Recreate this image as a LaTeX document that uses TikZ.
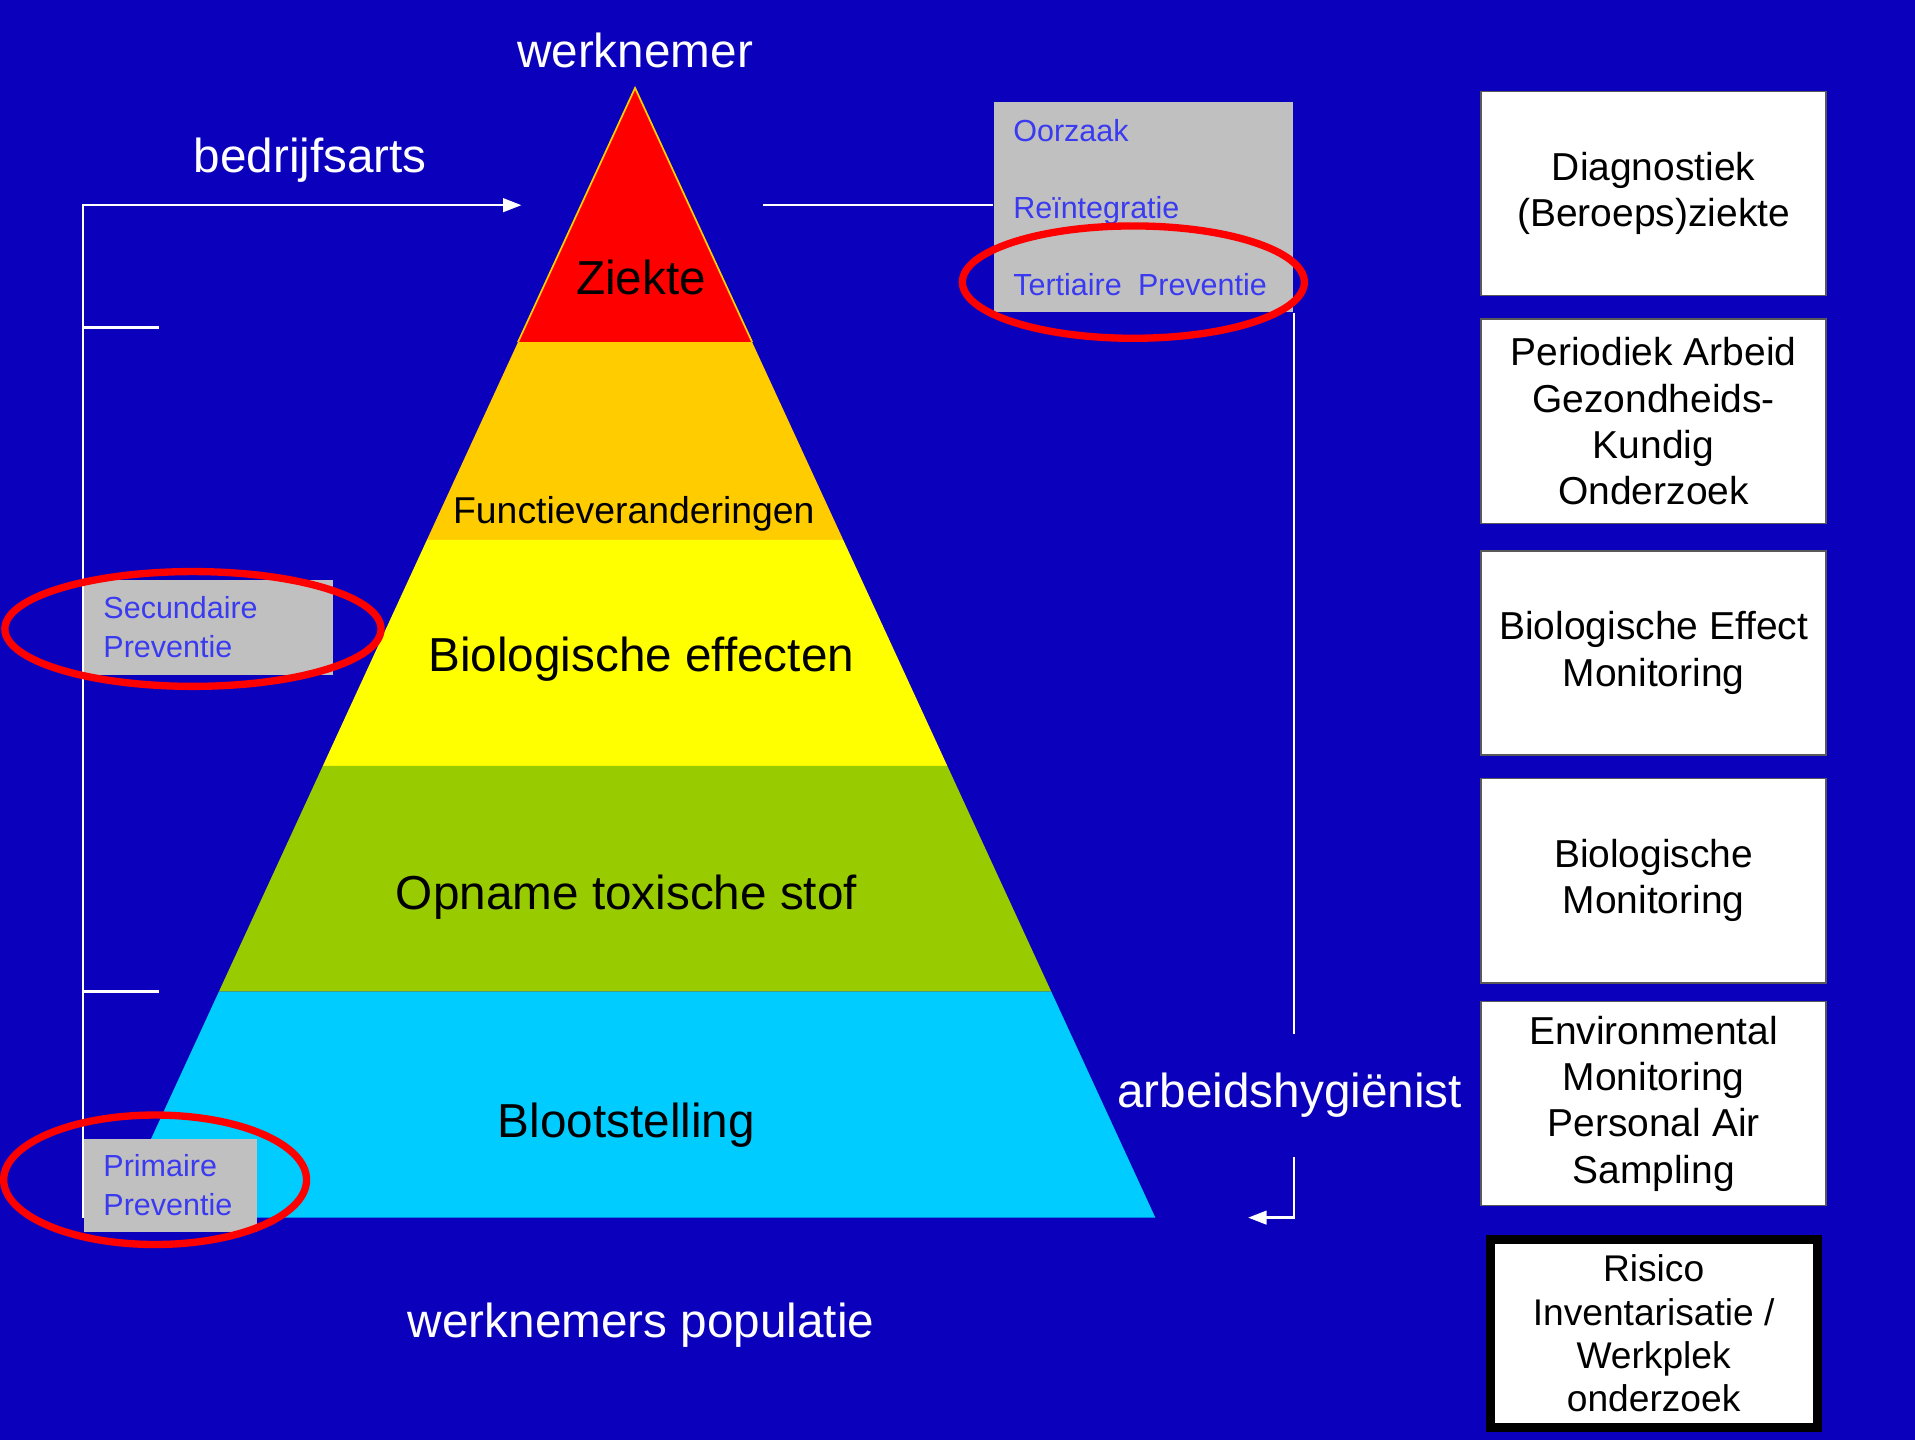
\documentclass[tikz,border=0pt]{standalone}
\usepackage{fontspec}
\setmainfont{Liberation Sans}
\usetikzlibrary{arrows.meta, positioning, calc}
\definecolor{slideblue}{RGB}{11,0,187}
\definecolor{zred}{RGB}{255,0,0}
\definecolor{zorange}{RGB}{255,204,0}
\definecolor{zyellow}{RGB}{255,255,0}
\definecolor{zgreen}{RGB}{153,204,0}
\definecolor{zcyan}{RGB}{0,204,255}
\definecolor{prevgrey}{RGB}{192,192,192}
\definecolor{prevblue}{RGB}{58,58,240}

\begin{document}
\begin{tikzpicture}[
        x=0.01cm, y=-0.01cm,
        >={Triangle[length=0.15cm, width=0.11cm]},
        every node/.style={inner sep=0pt},
        wline/.style={draw=white, line width=0.6pt},
        whitetxt/.style={text=white, font=\fontsize{11.1}{13}\selectfont},
        layertxt/.style={text=black, font=\fontsize{11.1}{13}\selectfont},
        prevbox/.style={fill=prevgrey, text=prevblue, align=left, anchor=north west, inner xsep=0.16cm, font=\fontsize{7.1}{9.1}\selectfont},
        ring/.style={draw=zred, line width=0.06cm},
        sidebox/.style={draw=black!65, line width=0.4pt, fill=white, minimum width=2.82cm, minimum height=1.67cm, align=center, font=\fontsize{9.07}{10.8}\selectfont}
    ]
    % --- Background ---
    \fill[slideblue] (0,0) rectangle (1568,1179);

    % --- Pyramid layers ---
    \coordinate (top) at (520,72);
    \coordinate (bl) at (94,997);
    \coordinate (br) at (946,997);
    \foreach \a/\b/\col in {0/0.225/zred, 0.225/0.4/zorange, 0.4/0.6/zyellow, 0.6/0.8/zgreen, 0.8/1/zcyan}
        \fill[\col] ($(top)!\a!(bl)$) -- ($(top)!\b!(bl)$) -- ($(top)!\b!(br)$) -- ($(top)!\a!(br)$) -- cycle;
    \draw[zorange, line width=0.4pt] ($(top)!0.225!(bl)$) -- (top) -- ($(top)!0.225!(br)$);

    \node[layertxt] (ziekte) at (525,227) {Ziekte};
    \node[layertxt, font=\fontsize{8.7}{10}\selectfont] (functie) at (519,421) {Functieveranderingen};
    \node[layertxt] (bioeff) at (525,540) {Biologische effecten};
    \node[layertxt] (opname) at (513,735) {Opname toxische stof};
    \node[layertxt] (bloot) at (513,921) {Blootstelling};

    % --- Actors ---
    \node[whitetxt] (werknemer) at (520,41) {werknemer};
    \node[whitetxt] (bedrijfsarts) at (254,131) {bedrijfsarts};
    \node[whitetxt] (populatie) at (525,1085) {werknemers populatie};
    \node[whitetxt, minimum height=1cm] (ahyg) at (1056,897) {arbeidshygiënist};

    % --- Prevention boxes ---
    \node[prevbox, text width=2.13cm, minimum height=1.72cm, font=\fontsize{7.1}{17.9}\selectfont] (tert) at (813,83) {Oorzaak\\Reïntegratie\\Tertiaire\hspace{0.2em} Preventie};
    \node[prevbox, text width=1.72cm, minimum height=0.78cm] (secprev) at (68,474) {Secundaire\\Preventie};
    \node[prevbox, text width=1.10cm, minimum height=0.76cm] (primprev) at (68,932) {Primaire\\Preventie};

    % --- Bedrijfsarts bracket ---
    \coordinate (leftbase) at (68,997);
    \coordinate (arrowtip) at (427,168);
    \coordinate (tickA) at (130,268);
    \coordinate (tickB) at (130,812);
    \draw[wline, ->] (leftbase) |- (arrowtip);
    \draw[wline] (tickA) -- (tickA -| leftbase);
    \draw[wline] (tickB) -- (tickB -| leftbase);

    % --- Arbeidshygienist bracket ---
    \coordinate (rightstart) at (625,168);
    \coordinate (ahygtip) at (1022,997);
    \draw[wline] (rightstart) -- (rightstart -| tert.west);
    \draw[wline] (tert.south east) -- (tert.east |- ahyg.north);
    \draw[wline, ->] (tert.east |- ahyg.south) |- (ahygtip);

    % --- Red rings ---
    \draw[ring] (928,231) ellipse [x radius=140, y radius=46];
    \draw[ring] (158,515) ellipse [x radius=154, y radius=47];
    \draw[ring] (127,966) ellipse [x radius=124, y radius=53];

    % --- Right column ---
    \node[sidebox] (diag) at (1354,158.5) {Diagnostiek\\(Beroeps)ziekte};
    \node[sidebox, below=0.18cm of diag] (pago) {Periodiek Arbeid\\Gezondheids-\\Kundig\\Onderzoek};
    \node[sidebox, below=0.21cm of pago] (bem) {Biologische Effect\\Monitoring};
    \node[sidebox, below=0.18cm of bem] (biomon) {Biologische\\Monitoring};
    \node[sidebox, below=0.14cm of biomon] (envmon) {Environmental\\Monitoring\\Personal Air\\Sampling};
    \node[sidebox, below=0.23cm of envmon, draw=black, line width=0.075cm, minimum width=2.675cm, minimum height=1.545cm, font=\fontsize{8.65}{10.1}\selectfont] (rie) {Risico\\Inventarisatie /\\Werkplek\\onderzoek};
\end{tikzpicture}
\end{document}
